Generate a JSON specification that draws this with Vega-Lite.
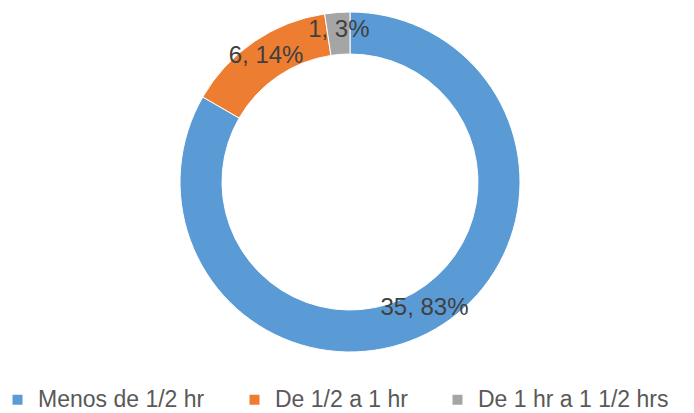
{
  "$schema": "https://vega.github.io/schema/vega-lite/v6.json",
  "width": 688,
  "height": 364,
  "autosize": {"type": "pad"},
  "padding": {"left": 6, "top": 0, "right": 0, "bottom": 0},
  "background": "white",
  "config": {"view": {"stroke": null}, "font": "Liberation Sans"},
  "data": {"values": [
    {"cat": "Menos de 1/2 hr", "n": 35, "label": "35, 83%", "ord": 1},
    {"cat": "De 1/2 a 1 hr", "n": 6, "label": "6, 14%", "ord": 2},
    {"cat": "De 1 hr a 1 1/2 hrs", "n": 1, "label": "1, 3%", "ord": 3}
  ]},
  "encoding": {
    "theta": {"field": "n", "type": "quantitative", "stack": true},
    "order": {"field": "ord", "type": "quantitative"},
    "color": {
      "field": "cat", "type": "nominal",
      "sort": ["Menos de 1/2 hr", "De 1/2 a 1 hr", "De 1 hr a 1 1/2 hrs"],
      "scale": {"domain": ["Menos de 1/2 hr", "De 1/2 a 1 hr", "De 1 hr a 1 1/2 hrs"], "range": ["#5B9BD5", "#ED7D31", "#A5A5A5"]},
      "legend": {
        "orient": "bottom", "direction": "horizontal", "title": null,
        "symbolType": "square", "symbolSize": 100, "symbolStrokeWidth": 0,
        "labelFontSize": 23, "labelColor": "#595959", "columnPadding": 38,
        "labelLimit": 400, "offset": 24, "labelOffset": 9
      }
    }
  },
  "layer": [
    {"mark": {"type": "arc", "outerRadius": 170, "innerRadius": 128, "stroke": "white", "strokeWidth": 1}},
    {"mark": {"type": "text", "radius": 149, "fontSize": 24, "dy": -3, "fill": "#404040"},
     "encoding": {"text": {"field": "label"}, "color": {"value": "#404040"}}}
  ]
}
